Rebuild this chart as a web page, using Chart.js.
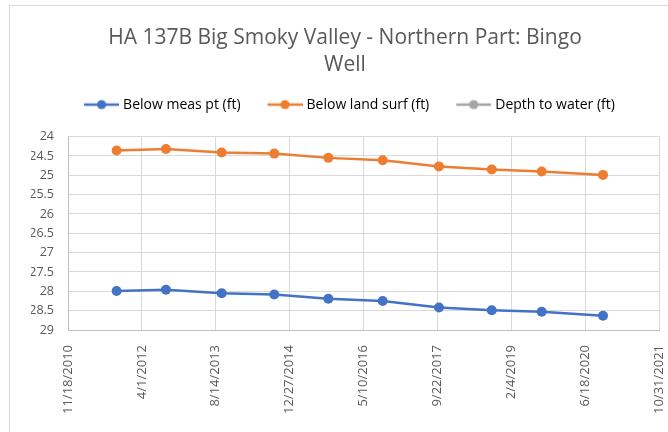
<!DOCTYPE html>
<html>
<head>
<meta charset="utf-8">
<script src="https://cdn.jsdelivr.net/npm/chart.js@4/dist/chart.umd.min.js"></script>
<style>
  html, body { margin: 0; padding: 0; background: #fff; overflow: hidden; }
  #wrap { position: relative; width: 668px; height: 432px; overflow: hidden; }
  #frame { position: absolute; left: 9px; top: 5px; width: 700px; height: 500px;
           border: 1px solid #d9d9d9; pointer-events: none; }
  canvas { position: absolute; left: 0; top: 0; }
</style>
</head>
<body>
<div id="wrap">
  <canvas id="chart-area" width="690" height="432"></canvas>
  <div id="frame"></div>
</div>
<script>
// measurement dates and depths (ft)
var dates = ['2011-10-13', '2012-09-11', '2013-09-23', '2014-09-14', '2015-09-15',
             '2016-09-17', '2017-10-03', '2018-09-25', '2019-08-29', '2020-10-17'];
var belowMeasPt = [27.99, 27.96, 28.05, 28.08, 28.19, 28.25, 28.42, 28.49, 28.53, 28.63];
var belowLandSurf = [24.36, 24.32, 24.41, 24.44, 24.55, 24.61, 24.77, 24.85, 24.90, 24.99];
var depthToWater = [];

var xTickLabels = ['11/18/2010', '4/1/2012', '8/14/2013', '12/27/2014', '5/10/2016',
                   '9/22/2017', '2/4/2019', '6/18/2020', '10/31/2021'];
var yMin = 24, yMax = 29, yStep = 0.5;

var DAY = 86400000;
function isoToDay(s) {
  var p = s.split('-');
  return Date.UTC(+p[0], +p[1] - 1, +p[2]) / DAY;
}
function mdyToDay(s) {
  var p = s.split('/');
  return Date.UTC(+p[2], +p[0] - 1, +p[1]) / DAY;
}
var xTicks = xTickLabels.map(mdyToDay);

function points(values) {
  return values.map(function (v, i) { return { x: isoToDay(dates[i]), y: v }; });
}

// legend icon: short line with a dot, pushed to the right side of the image
// so the gap before the text is small and the gap between items is wider
function legendIcon(color) {
  var c = document.createElement('canvas');
  c.width = 47; c.height = 12;
  var g = c.getContext('2d');
  g.strokeStyle = color; g.lineWidth = 2.5;
  g.beginPath(); g.moveTo(12, 6); g.lineTo(47, 6); g.stroke();
  g.fillStyle = color;
  g.beginPath(); g.arc(29.5, 6, 4.6, 0, Math.PI * 2); g.fill();
  return c;
}

var colors = ['#4472C4', '#ED7D31', '#A5A5A5'];
var names = ['Below meas pt (ft)', 'Below land surf (ft)', 'Depth to water (ft)'];
var series = [belowMeasPt, belowLandSurf, depthToWater];

var textColor = '#595959';
var gridColor = '#d9d9d9';
var fontFamily = '"Open Sans", sans-serif';

// extra space under the legend, before the plot area
var legendGap = {
  id: 'legendGap',
  beforeInit: function (chart) {
    var fit = chart.legend.fit;
    chart.legend.fit = function () {
      fit.call(this);
      this.height += 15;
    };
  }
};

var config = {
  type: 'line',
  data: {
    datasets: series.map(function (s, i) {
      return {
        label: names[i],
        data: points(s),
        borderColor: colors[i],
        backgroundColor: colors[i],
        borderWidth: 2.5,
        pointRadius: 5,
        pointHoverRadius: 5,
        pointBorderWidth: 0,
        tension: 0
      };
    })
  },
  plugins: [legendGap],
  options: {
    responsive: false,
    animation: false,
    layout: { padding: { left: 31, right: 31, top: 0, bottom: 0 } },
    plugins: {
      tooltip: { enabled: false },
      title: {
        display: true,
        text: ['HA 137B Big Smoky Valley - Northern Part: Bingo', 'Well'],
        color: textColor,
        font: { family: fontFamily, size: 21, weight: 'normal', lineHeight: 1.3 },
        padding: { top: 24, bottom: 1 }
      },
      legend: {
        position: 'top',
        labels: {
          color: textColor,
          font: { family: fontFamily, size: 14 },
          usePointStyle: true,
          pointStyleWidth: 41,
          padding: 18,
          generateLabels: function (chart) {
            return chart.data.datasets.map(function (ds, i) {
              return {
                text: ds.label,
                pointStyle: legendIcon(colors[i]),
                fillStyle: colors[i],
                strokeStyle: colors[i],
                lineWidth: 0,
                datasetIndex: i
              };
            });
          }
        }
      }
    },
    scales: {
      x: {
        type: 'linear',
        min: xTicks[0],
        max: xTicks[xTicks.length - 1],
        afterBuildTicks: function (scale) {
          scale.ticks = xTicks.map(function (v) { return { value: v }; });
        },
        afterFit: function (scale) { scale.height = 102; },
        grid: { color: gridColor, drawTicks: false },
        border: { color: '#bfbfbf' },
        ticks: {
          autoSkip: false,
          minRotation: 90,
          maxRotation: 90,
          padding: 15,
          color: textColor,
          font: { family: fontFamily, size: 13 },
          callback: function (value, index) { return xTickLabels[index]; }
        }
      },
      y: {
        reverse: true,
        min: yMin,
        max: yMax,
        afterFit: function (scale) { scale.width = 37; },
        grid: { color: gridColor, drawTicks: false },
        border: { color: '#bfbfbf' },
        ticks: {
          stepSize: yStep,
          padding: 14,
          color: textColor,
          font: { family: fontFamily, size: 12.5 },
          callback: function (value) { return String(value); }
        }
      }
    }
  }
};

var ctx = document.getElementById('chart-area').getContext('2d');
window.myLine = new Chart(ctx, config);
</script>
</body>
</html>
